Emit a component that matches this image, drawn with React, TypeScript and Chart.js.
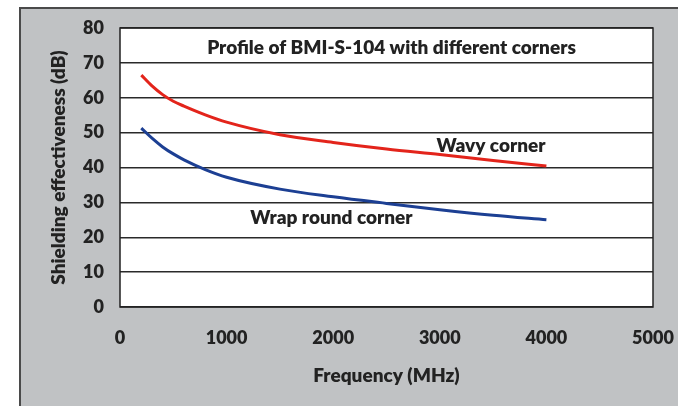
import React, { useEffect, useRef } from "react";
import { Chart, registerables } from "chart.js";

Chart.register(...registerables);

// ---- data ----
const frequencies = [200, 300, 400, 500, 600, 800, 1000, 1500, 2000, 2500, 3000, 3500, 4000];
const wavyCorner = [66.5, 63.4, 60.9, 59.0, 57.6, 55.1, 53.0, 49.4, 47.2, 45.3, 43.7, 42.0, 40.4];
const wrapRoundCorner = [51.3, 48.4, 45.9, 43.9, 42.2, 39.4, 37.2, 33.8, 31.6, 29.7, 27.9, 26.3, 25.0];
const seriesNames = ["Wavy corner", "Wrap round corner"];
const chartTitle = "Profile of BMI-S-104 with different corners";
const xAxisTitle = "Frequency (MHz)";
const yAxisTitle = "Shielding effectiveness (dB)";
const xTicks = [0, 1000, 2000, 3000, 4000, 5000];
const yTicks = [0, 10, 20, 30, 40, 50, 60, 70, 80];
// label anchors in data units: [frequency, dB]
const titleAnchor = [2547, 74.3];
const wavyLabelAnchor = [3480, 46.2];
const wrapLabelAnchor = [1983, 25.5];

const FONT = "Lato, 'Open Sans', sans-serif";
const TEXT = "#222222";
const LABEL_SIZE = 19;
const TICK_SIZE = 18;
const WEIGHT = "800";

export default function App() {
  const ref = useRef<HTMLCanvasElement | null>(null);

  useEffect(() => {
    document.body.style.margin = "0";
    const canvas = ref.current!;
    const decor = {
      id: "decor",
      beforeDraw(chart: any) {
        const { ctx, chartArea: a } = chart;
        ctx.save();
        ctx.fillStyle = "#ffffff";
        ctx.fillRect(0, 0, chart.width, chart.height);
        ctx.fillStyle = "#c0c2c4";
        ctx.fillRect(19, 7, chart.width - 19, chart.height - 7);
        ctx.fillStyle = "#4a4a4a";
        ctx.fillRect(19, 7, chart.width - 19, 2);
        ctx.fillRect(19, 7, 2, chart.height - 7);
        ctx.fillStyle = "#ffffff";
        ctx.fillRect(a.left, a.top, a.right - a.left, a.bottom - a.top);
        ctx.restore();
      },
      afterDraw(chart: any) {
        const { ctx, chartArea: a, scales } = chart;
        ctx.save();
        ctx.strokeStyle = "#222222";
        ctx.lineWidth = 1.5;
        ctx.strokeRect(a.left, a.top, a.right - a.left, a.bottom - a.top);
        ctx.fillStyle = TEXT;
        ctx.font = `${WEIGHT} ${LABEL_SIZE}px ${FONT}`;
        ctx.textAlign = "center";
        ctx.textBaseline = "middle";
        const put = (t: string, p: number[]) =>
          ctx.fillText(t, scales.x.getPixelForValue(p[0]), scales.y.getPixelForValue(p[1]));
        put(chartTitle, titleAnchor);
        put(seriesNames[0], wavyLabelAnchor);
        put(seriesNames[1], wrapLabelAnchor);
        ctx.restore();
      },
    };

    const tickFont = { family: FONT, size: TICK_SIZE, weight: WEIGHT };
    const titleFont = { family: FONT, size: LABEL_SIZE, weight: WEIGHT };

    const chart = new Chart(canvas, {
      type: "line",
      data: {
        datasets: [
          {
            label: seriesNames[0],
            data: frequencies.map((f, i) => ({ x: f, y: wavyCorner[i] })),
            borderColor: "#e3241b",
            borderWidth: 3,
            pointRadius: 0,
            cubicInterpolationMode: "monotone",
            fill: false,
          },
          {
            label: seriesNames[1],
            data: frequencies.map((f, i) => ({ x: f, y: wrapRoundCorner[i] })),
            borderColor: "#1c3f93",
            borderWidth: 3,
            pointRadius: 0,
            cubicInterpolationMode: "monotone",
            fill: false,
          },
        ],
      },
      options: {
        responsive: false,
        animation: false,
        layout: { padding: { left: 0, top: 28, right: 25, bottom: 0 } },
        plugins: { legend: { display: false }, tooltip: { enabled: false }, title: { display: false } },
        scales: {
          x: {
            type: "linear",
            min: xTicks[0],
            max: xTicks[xTicks.length - 1],
            afterBuildTicks: (s: any) => {
              s.ticks = xTicks.map((v) => ({ value: v }));
            },
            afterFit: (s: any) => {
              s.height = 99;
              s.paddingLeft = 0;
              s.paddingRight = 0;
            },
            grid: { display: false, drawTicks: false },
            border: { display: false },
            ticks: { color: TEXT, font: tickFont, padding: 20, maxRotation: 0, callback: (v: any) => String(v) },
            title: {
              display: true,
              text: xAxisTitle,
              color: TEXT,
              font: titleFont,
              padding: { top: 0, bottom: 19 },
            },
          },
          y: {
            min: yTicks[0],
            max: yTicks[yTicks.length - 1],
            afterBuildTicks: (s: any) => {
              s.ticks = yTicks.map((v) => ({ value: v }));
            },
            afterFit: (s: any) => {
              s.width = 120;
              s.paddingTop = 0;
              s.paddingBottom = 0;
            },
            grid: { color: "#2a2a2a", lineWidth: 1.5, drawTicks: false },
            border: { display: false },
            ticks: { color: TEXT, font: tickFont, padding: 16, callback: (v: any) => String(v) },
            title: {
              display: true,
              text: yAxisTitle,
              color: TEXT,
              font: titleFont,
              padding: { top: 47, bottom: 0 },
            },
          },
        },
      },
      plugins: [decor],
    } as any);
    return () => chart.destroy();
  }, []);

  return (
    <div style={{ position: "absolute", left: 0, top: 0, width: 678, height: 406 }}>
      <canvas ref={ref} width={678} height={406} />
    </div>
  );
}
